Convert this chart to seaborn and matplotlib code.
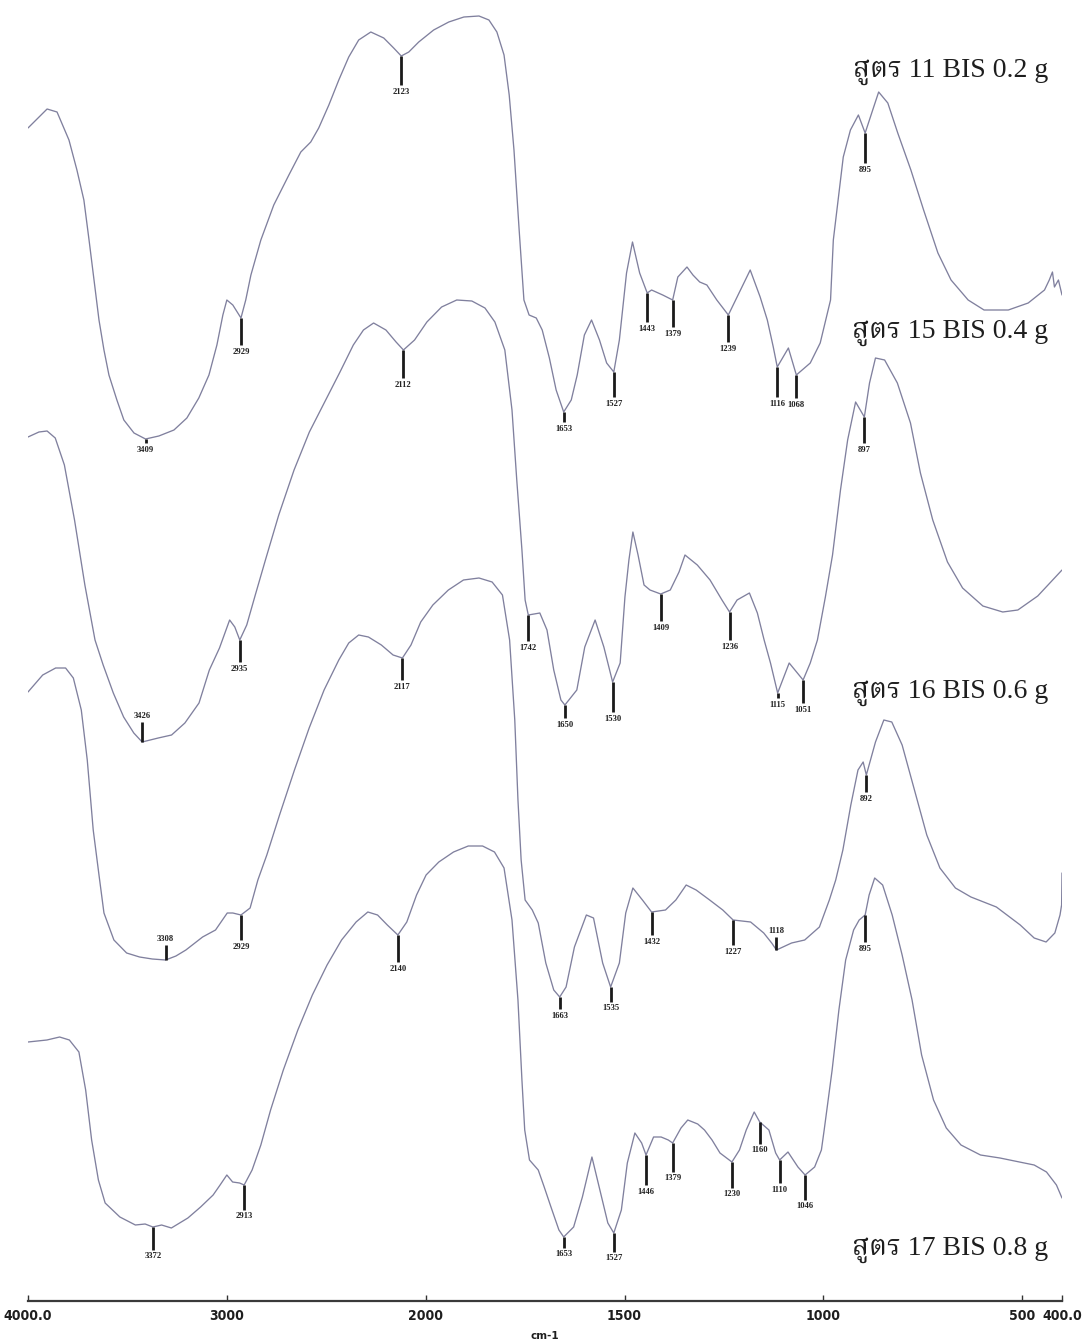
import numpy as np
import pandas as pd
import matplotlib
matplotlib.use("Agg")
import matplotlib.pyplot as plt
import seaborn as sns
from matplotlib import font_manager
from matplotlib.ft2font import FT2Font

# ---------------------------------------------------------------------------
# FTIR spectra (wavenumber in cm-1, stacked transmittance in offset units)
# ---------------------------------------------------------------------------
wn_f11 = [4000, 3904, 3854, 3794, 3754, 3719, 3693, 3668, 3643, 3618, 3593, 3553, 3518, 3467, 3409,
          3342, 3266, 3201, 3141, 3090, 3050, 3020, 3000, 2970, 2929, 2905, 2879, 2829, 2764, 2688,
          2628, 2578, 2538, 2487, 2437, 2387, 2337, 2276, 2211, 2161, 2123, 2085, 2035, 1980, 1942,
          1904, 1866, 1841, 1821, 1803, 1790, 1778, 1765, 1753, 1740, 1722, 1707, 1689, 1672, 1653,
          1634, 1619, 1601, 1583, 1563, 1545, 1527, 1513, 1495, 1480, 1462, 1443, 1432, 1404, 1379,
          1366, 1343, 1328, 1311, 1293, 1268, 1239, 1217, 1184, 1159, 1141, 1126, 1116, 1088, 1068,
          1033, 1008, 982, 975, 950, 932, 912, 895, 876, 861, 838, 813, 780, 748, 712, 679, 636,
          596, 535, 485, 444, 432, 424, 419, 409, 400]
t_f11 = [117.5, 119.4, 119.1, 116.3, 113.3, 110.3, 106.3, 102.3, 98.3, 95.3, 92.8, 90.3, 88.3, 87.0, 86.4,
         86.7, 87.3, 88.5, 90.5, 92.8, 95.8, 98.8, 100.3, 99.8, 98.5, 100.3, 102.8, 106.3, 109.8, 112.8,
         115.1, 116.1, 117.5, 119.8, 122.3, 124.6, 126.3, 127.1, 126.5, 125.5, 124.7, 125.1, 126.1, 127.3, 128.1,
         128.6, 128.7, 128.3, 127.1, 124.8, 120.8, 115.3, 107.3, 100.3, 98.8, 98.5, 97.3, 94.5, 91.3, 89.1,
         90.3, 92.8, 96.8, 98.3, 96.3, 94.0, 93.1, 96.3, 103.0, 106.1, 103.0, 101.0, 101.3, 100.8, 100.3,
         102.6, 103.6, 102.8, 102.1, 101.8, 100.3, 98.8, 100.6, 103.3, 100.6, 98.3, 95.6, 93.6, 95.5, 92.8,
         94.0, 96.0, 100.3, 106.3, 114.6, 117.3, 118.8, 117.0, 119.3, 121.1, 120.0, 117.0, 113.3, 109.3, 105.0, 102.3, 100.3,
         99.3, 99.3, 100.0, 101.3, 102.3, 103.1, 101.6, 102.3, 100.8]

wn_f15 = [4000, 3945, 3904, 3863, 3817, 3766, 3714, 3663, 3622, 3571, 3519, 3468, 3426, 3345, 3278,
          3211, 3140, 3088, 3037, 2986, 2960, 2935, 2900, 2857, 2806, 2739, 2662, 2585, 2508, 2431,
          2364, 2313, 2262, 2200, 2149, 2112, 2056, 1997, 1960, 1922, 1884, 1851, 1826, 1801, 1783,
          1771, 1758, 1750, 1742, 1713, 1695, 1678, 1660, 1650, 1620, 1600, 1574, 1552, 1530, 1511,
          1499, 1489, 1479, 1466, 1451, 1436, 1409, 1385, 1363, 1348, 1317, 1285, 1255, 1236, 1217,
          1186, 1166, 1149, 1133, 1115, 1086, 1051, 1033, 1015, 995, 977, 957, 939, 919, 897, 884,
          869, 846, 814, 781, 756, 725, 688, 650, 599, 549, 511, 461, 400]
t_f15 = [86.6, 87.1, 87.2, 86.5, 83.8, 78.3, 71.8, 66.3, 63.8, 61.0, 58.6, 57.0, 56.1, 56.5, 56.8,
         58.0, 60.0, 63.3, 65.5, 68.3, 67.6, 66.3, 67.8, 70.8, 74.3, 78.8, 83.3, 87.1, 90.1, 93.1,
         95.8, 97.3, 98.0, 97.3, 96.1, 95.3, 96.3, 98.1, 99.6, 100.3, 100.2, 99.5, 98.1, 95.3, 89.3,
         82.3, 75.3, 70.3, 68.8, 69.0, 67.3, 63.3, 60.3, 59.8, 61.3, 65.6, 68.3, 65.6, 62.1, 64.0,
         70.6, 74.3, 77.1, 74.8, 71.8, 71.3, 70.9, 71.3, 73.1, 74.8, 73.8, 72.3, 70.3, 69.1, 70.3,
         71.0, 69.0, 66.3, 64.0, 61.0, 64.0, 62.3, 64.0, 66.3, 70.6, 74.8, 81.3, 86.3, 90.1, 88.6, 92.0,
         94.5, 94.3, 92.0, 88.0, 83.0, 78.3, 74.1, 71.5, 69.7, 69.1, 69.3, 70.7, 73.3]

wn_f16 = [4000, 3926, 3861, 3811, 3772, 3732, 3702, 3672, 3643, 3618, 3568, 3504, 3439, 3375, 3308,
          3256, 3206, 3122, 3057, 2998, 2970, 2929, 2883, 2844, 2799, 2735, 2660, 2586, 2511, 2437,
          2387, 2337, 2288, 2223, 2164, 2117, 2074, 2025, 1982, 1943, 1905, 1866, 1833, 1807, 1789,
          1776, 1768, 1760, 1750, 1732, 1717, 1698, 1678, 1663, 1647, 1626, 1596, 1578, 1555, 1535,
          1513, 1497, 1479, 1455, 1432, 1397, 1371, 1345, 1320, 1286, 1253, 1227, 1183, 1150, 1130,
          1118, 1080, 1047, 1010, 985, 969, 951, 931, 913, 900, 892, 869, 848, 828, 802, 771, 740,
          707, 668, 629, 565, 505, 470, 440, 418, 405, 401, 400]
t_f16 = [61.1, 62.8, 63.5, 63.5, 62.5, 59.3, 54.3, 47.3, 42.8, 39.0, 36.3, 35.0, 34.6, 34.4, 34.3,
         34.7, 35.3, 36.6, 37.3, 39.0, 39.0, 38.8, 39.5, 42.3, 44.8, 48.8, 53.3, 57.5, 61.3, 64.3,
         66.0, 66.8, 66.6, 65.8, 64.8, 64.5, 65.8, 68.1, 69.8, 71.3, 72.3, 72.5, 72.1, 70.8, 66.3,
         58.3, 50.3, 44.3, 40.3, 39.3, 38.0, 34.0, 31.3, 30.6, 31.6, 35.6, 38.8, 38.5, 34.0, 31.6,
         34.0, 39.0, 41.5, 40.3, 39.1, 39.3, 40.3, 41.8, 41.3, 40.3, 39.3, 38.3, 38.1, 37.0, 36.0,
         35.3, 36.0, 36.3, 37.6, 40.3, 42.3, 45.3, 49.8, 53.3, 54.1, 52.8, 56.1, 58.3, 58.1, 55.8, 51.3, 46.8,
         43.5, 41.5, 40.6, 39.6, 37.8, 36.5, 36.1, 37.0, 38.8, 39.8, 43.0]

wn_f17 = [4000, 3905, 3841, 3792, 3744, 3710, 3680, 3646, 3612, 3538, 3460, 3411, 3372, 3328, 3279,
          3196, 3132, 3069, 3034, 3000, 2971, 2936, 2913, 2873, 2829, 2780, 2716, 2643, 2570, 2496,
          2423, 2350, 2291, 2242, 2193, 2140, 2095, 2046, 1999, 1967, 1930, 1893, 1857, 1827, 1803,
          1783, 1768, 1758, 1751, 1739, 1717, 1702, 1685, 1665, 1653, 1628, 1606, 1582, 1562, 1542,
          1527, 1508, 1493, 1474, 1457, 1446, 1427, 1408, 1390, 1379, 1358, 1341, 1316, 1299, 1280,
          1260, 1230, 1211, 1194, 1174, 1160, 1137, 1120, 1110, 1089, 1064, 1046, 1022, 1005, 998,
          978, 961, 944, 924, 910, 895, 885, 871, 851, 827, 802, 777, 753, 723, 691, 654, 605, 556,
          507, 470, 439, 414, 400]
t_f17 = [26.1, 26.3, 26.6, 26.3, 25.1, 21.3, 16.3, 12.3, 10.0, 8.6, 7.8, 7.9, 7.6, 7.8, 7.5,
         8.5, 9.6, 10.8, 11.8, 12.8, 12.1, 12.0, 11.8, 13.3, 15.8, 19.3, 23.3, 27.3, 30.8, 33.8,
         36.3, 38.1, 39.1, 38.8, 37.8, 36.8, 38.1, 40.8, 42.8, 44.1, 45.1, 45.7, 45.7, 45.1, 43.5,
         38.3, 30.3, 22.3, 17.3, 14.3, 13.3, 11.6, 9.6, 7.3, 6.6, 7.6, 10.6, 14.6, 11.3, 8.0,
         7.0, 9.3, 14.0, 17.0, 16.0, 14.8, 16.6, 16.6, 16.3, 16.0, 17.5, 18.3, 17.9, 17.3, 16.3,
         15.0, 14.1, 15.3, 17.3, 19.1, 18.1, 17.3, 15.0, 14.3, 15.1, 13.6, 12.8, 13.6, 15.3, 17.3,
         23.3, 29.3, 34.3, 37.3, 38.3, 38.8, 40.8, 42.5, 41.8, 38.8, 34.8, 30.3, 24.8, 20.3, 17.5, 15.8, 14.8, 14.5,
         14.1, 13.8, 13.1, 11.8, 10.5]

# labelled band positions (cm-1)
peaks_f11 = [3409, 2929, 2123, 1653, 1527, 1443, 1379, 1239, 1116, 1068, 895]
peaks_f15 = [3426, 2935, 2112, 1742, 1650, 1530, 1409, 1236, 1115, 1051, 897]
peaks_f16 = [3308, 2929, 2117, 1663, 1535, 1432, 1227, 1118, 892]
peaks_f17 = [3372, 2913, 2140, 1653, 1527, 1446, 1379, 1230, 1160, 1110, 1046, 895]

sample_names = ["สูตร 11 BIS 0.2 g", "สูตร 15 BIS 0.4 g", "สูตร 16 BIS 0.6 g", "สูตร 17 BIS 0.8 g"]

axis_ticks = [4000, 3000, 2000, 1500, 1000, 500, 400]
axis_tick_labels = ["4000.0", "3000", "2000", "1500", "1000", "500", "400.0"]

# marker stem lengths (positive: stem below the trace, negative: above)
stems_f11 = [0.4, 2.7, 2.9, 1.0, 2.5, 2.9, 2.7, 2.7, 3.0, 2.3, 3.0]
stems_f15 = [-2.0, 2.2, 2.8, 2.6, 1.3, 3.0, 2.7, 2.8, 0.5, 2.3, 2.6]
stems_f16 = [-1.5, 2.5, 2.2, 1.2, 1.5, 2.3, 2.5, -1.3, 1.7]
stems_f17 = [2.3, 2.5, 2.7, 1.1, 1.9, 3.0, 2.9, 2.6, 2.2, 2.3, 2.5, 2.7]


def thai_capable_family():
    preferred = ["Norasi", "Noto Serif Thai", "TH Sarabun New", "Tlwg Typo", "Garuda",
                 "Loma", "Noto Sans Thai", "Kinnari"]
    found = []
    for f in font_manager.fontManager.ttflist:
        try:
            ft = FT2Font(f.fname)
            if ft.get_char_index(0x0E2A) and ft.get_char_index(0x0E15):
                found.append(f.name)
        except Exception:
            continue
    for p in preferred:
        if p in found:
            return p
    return found[0] if found else None


sns.set_theme(style="white")
plt.rcParams["font.family"] = ["Liberation Serif", "DejaVu Serif"]

W, H = 1091, 1342
fig = plt.figure(figsize=(W / 100, H / 100), dpi=100)
ax = fig.add_axes([28 / W, 41 / H, 1034 / W, 1301 / H])


def fwd(x):
    x = np.asarray(x, dtype=float)
    return np.where(x > 2000, 2000 + (x - 2000) / 2.0, x)


def inv(u):
    u = np.asarray(u, dtype=float)
    return np.where(u > 2000, 2000 + (u - 2000) * 2.0, u)


ax.set_xscale("function", functions=(fwd, inv))
ax.set_xlim(4000, 400)
ax.set_ylim(0.2, 130.3)

line_color = "#80809e"
series = [(wn_f11, t_f11, peaks_f11, stems_f11),
          (wn_f15, t_f15, peaks_f15, stems_f15),
          (wn_f16, t_f16, peaks_f16, stems_f16),
          (wn_f17, t_f17, peaks_f17, stems_f17)]

for wn, t, peaks, stems in series:
    df = pd.DataFrame({"wavenumber": wn, "T": t})
    sns.lineplot(data=df, x="wavenumber", y="T", sort=False, estimator=None,
                 color=line_color, lw=0.95, ax=ax)
    wn_arr = np.asarray(wn, float)[::-1]
    t_arr = np.asarray(t, float)[::-1]
    for p, s in zip(peaks, stems):
        y0 = float(np.interp(p, wn_arr, t_arr))
        y1 = y0 - s
        ax.plot([p, p], [y0, y1], color="#1a1a1a", lw=2.0, solid_capstyle="butt")
        if s >= 0:
            ax.text(p, y1 - 0.25, str(p), ha="center", va="top", fontsize=6.2,
                    fontweight="bold", color="#222222")
        else:
            ax.text(p, y1 + 0.25, str(p), ha="center", va="bottom", fontsize=6.2,
                    fontweight="bold", color="#222222")

# sample names
thai = thai_capable_family()
name_family = ["Liberation Serif"] + ([thai] if thai else []) + ["DejaVu Serif"]
name_y = [72, 333, 693, 1250]
for name, yp in zip(sample_names, name_y):
    fig.text(1048 / W, 1 - yp / H, name, ha="right", va="center", fontsize=20,
             family=name_family, color="#1e1e1e")

# axis styling
for side in ("left", "top", "right"):
    ax.spines[side].set_visible(False)
ax.spines["bottom"].set_color("#3a3a3a")
ax.spines["bottom"].set_linewidth(1.6)
ax.set_yticks([])
ax.set_xticks(axis_ticks)
ax.set_xticklabels(axis_tick_labels)
ax.xaxis.set_minor_locator(matplotlib.ticker.NullLocator())
ax.tick_params(axis="x", direction="in", length=4, width=1.0, color="#333333", pad=6,
               bottom=True)
for lab in ax.get_xticklabels():
    lab.set_family(["DejaVu Sans"])
    lab.set_fontstretch("condensed")
    lab.set_fontweight("bold")
    lab.set_fontsize(10)
    lab.set_color("#1e1e1e")
ax.set_xlabel("")
ax.set_ylabel("")
fig.text(545 / W, 6 / H, "cm-1", ha="center", va="center", fontsize=7.5,
         fontweight="bold", family=["DejaVu Sans"], color="#1e1e1e")

fig.savefig("out.png", dpi=100)
